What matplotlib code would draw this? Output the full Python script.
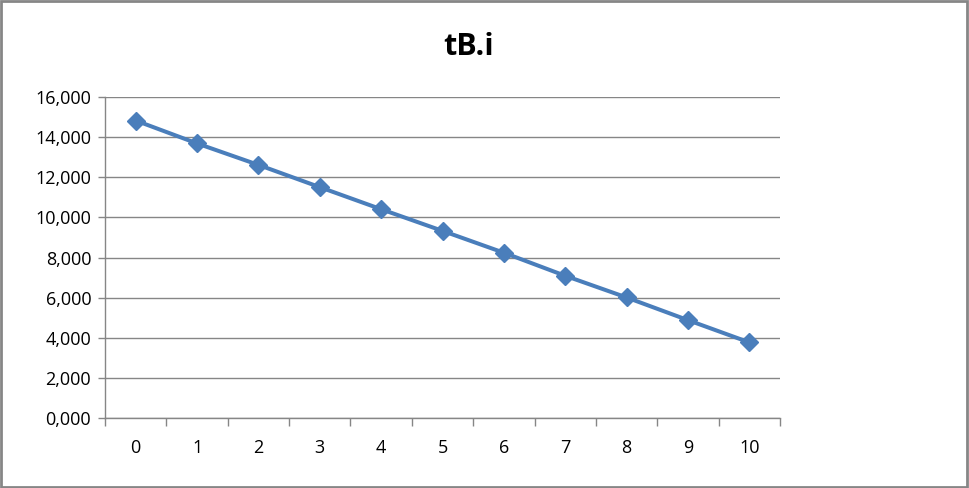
import matplotlib.pyplot as plt
from matplotlib.patches import Rectangle
from matplotlib.ticker import FixedLocator

# Data
periods = [0, 1, 2, 3, 4, 5, 6, 7, 8, 9, 10]
tBi = [14.83, 13.69, 12.62, 11.51, 10.41, 9.33, 8.24, 7.09, 6.01, 4.88, 3.77]
y_ticks = [0, 2, 4, 6, 8, 10, 12, 14, 16]
y_labels = ['0,000', '2,000', '4,000', '6,000', '8,000', '10,000', '12,000', '14,000', '16,000']

line_color = '#4A7EBB'
grid_color = '#868686'

plt.rcParams['font.family'] = ['Open Sans', 'DejaVu Sans']

fig = plt.figure(figsize=(9.69, 4.88), dpi=100, facecolor='white')
ax = fig.add_axes([0.1084, 0.1434, 0.6966, 0.6576])

ax.plot(periods, tBi, color=line_color, linewidth=2.9, marker='D',
        markersize=9.5, markerfacecolor=line_color, markeredgecolor=line_color,
        zorder=3)

# Excel-like axes
ax.set_xlim(-0.5, 10.5)
ax.set_ylim(0, 16)
ax.set_xticks(periods)
ax.set_xticklabels([str(p) for p in periods])
ax.xaxis.set_minor_locator(FixedLocator([p - 0.5 for p in periods] + [10.5]))
ax.tick_params(axis='x', which='major', length=0, pad=15, labelsize=13, colors='black')
ax.tick_params(axis='x', which='minor', length=6, width=1, color=grid_color, direction='out')
ax.set_yticks(y_ticks)
ax.set_yticklabels(y_labels)
ax.tick_params(axis='y', length=5, width=1, color=grid_color, pad=5, labelsize=13)

ax.yaxis.grid(True, color=grid_color, linewidth=1)
ax.set_axisbelow(True)
for side in ['top', 'right']:
    ax.spines[side].set_visible(False)
for side in ['left', 'bottom']:
    ax.spines[side].set_color(grid_color)
    ax.spines[side].set_linewidth(1)

fig.text(0.484, 0.904, 'tB.i', ha='center', va='center', fontsize=22, fontweight='bold')

# chart border
fig.patches.append(Rectangle((0.001, 0.002), 0.997, 0.996, transform=fig.transFigure,
                             fill=False, edgecolor='#868686', linewidth=2))

fig.savefig('out.png', dpi=100, facecolor='white')
